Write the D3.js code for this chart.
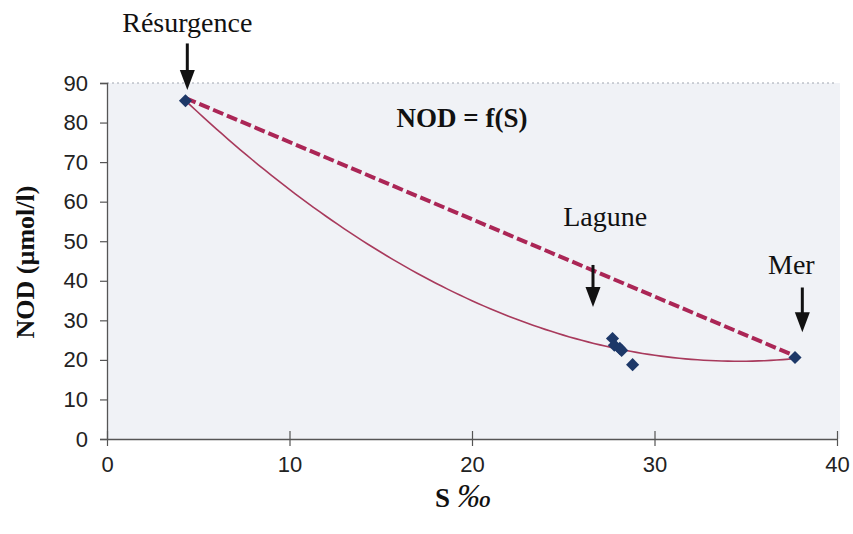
<!DOCTYPE html>
<html>
<head>
<meta charset="utf-8">
<script src="https://cdn.jsdelivr.net/npm/d3@7"></script>
<style>
  body { margin: 0; background: #fff; }
  svg { display: block; }
</style>
</head>
<body>
<svg id="chart" width="853" height="534"></svg>
<script>
// measured points, S (‰) vs NOD (µmol/l)
var salinity = [4.3, 27.7, 27.8, 28.1, 28.2, 28.8, 37.7];
var nod      = [85.5, 25.4, 23.7, 22.9, 22.4, 18.8, 20.6];

// dilution line between the two end-members
var mixS   = [4.3, 37.7];
var mixNod = [86.2, 21.0];

var xTicks = [0, 10, 20, 30, 40];
var yTicks = [0, 10, 20, 30, 40, 50, 60, 70, 80, 90];

// annotation arrows: x, top of shaft, tip, text position (data units)
var labels   = ["Résurgence", "Lagune", "Mer"];
var labelX   = [4.4, 27.3, 37.5];
var labelY   = [102.9, 53.8, 41.7];
var arrowX   = [4.4, 26.63, 38.1];
var arrowTop = [100.0, 44.0, 38.3];
var arrowTip = [88.2, 33.4, 27.0];

var svg = d3.select("#chart");
var x = d3.scaleLinear().domain([0, 40]).range([107, 837]);
var y = d3.scaleLinear().domain([0, 90]).range([439, 83]);

var serif = "'Liberation Serif', 'Times New Roman', serif";
var sans = "'Liberation Sans', Arial, sans-serif";

// plot background
svg.append("rect")
  .attr("x", x(0)).attr("y", y(90))
  .attr("width", x(40) - x(0) + 3).attr("height", y(0) - y(90))
  .attr("fill", "#f0f2f6");

// top border, dotted
svg.append("line")
  .attr("x1", x(0)).attr("x2", x(40))
  .attr("y1", y(90)).attr("y2", y(90))
  .attr("stroke", "#a0a6b0").attr("stroke-width", 1)
  .attr("stroke-dasharray", "2,3");

// axes
var xAxis = svg.append("g")
  .attr("transform", "translate(0," + y(0) + ")")
  .call(d3.axisBottom(x).tickValues(xTicks).tickSize(0).tickPadding(17));
xAxis.select(".domain").attr("stroke", "#555").attr("stroke-width", 1.3);
xAxis.selectAll(".tick line").remove();
xAxis.selectAll(".tick").append("line")
  .attr("y1", -8).attr("y2", 7).attr("stroke", "#555").attr("stroke-width", 1.2);
xAxis.selectAll("text").attr("font-family", sans).attr("font-size", 22).attr("fill", "#222");

var yAxis = svg.append("g")
  .attr("transform", "translate(" + x(0) + ",0)")
  .call(d3.axisLeft(y).tickValues(yTicks).tickSize(7).tickPadding(12));
yAxis.select(".domain").attr("stroke", "#555").attr("stroke-width", 1.3);
yAxis.selectAll(".tick line").attr("stroke", "#555").attr("stroke-width", 1.2);
yAxis.selectAll("text").attr("font-family", sans).attr("font-size", 22).attr("fill", "#222");

// quadratic least-squares trend from the points
function polyFit2(xs, ys) {
  var n = xs.length, s = [0, 0, 0, 0, 0], t = [0, 0, 0];
  for (var i = 0; i < n; i++) {
    var p = 1;
    for (var k = 0; k < 5; k++) { s[k] += p; if (k < 3) t[k] += p * ys[i]; p *= xs[i]; }
  }
  var M = [[s[0], s[1], s[2], t[0]], [s[1], s[2], s[3], t[1]], [s[2], s[3], s[4], t[2]]];
  for (var c = 0; c < 3; c++) {
    for (var r = c + 1; r < 3; r++) {
      var f = M[r][c] / M[c][c];
      for (var j = c; j < 4; j++) M[r][j] -= f * M[c][j];
    }
  }
  var b = [0, 0, 0];
  for (var r2 = 2; r2 >= 0; r2--) {
    var v = M[r2][3];
    for (var j2 = r2 + 1; j2 < 3; j2++) v -= M[r2][j2] * b[j2];
    b[r2] = v / M[r2][r2];
  }
  return b; // c0 + c1 s + c2 s^2
}
var coef = polyFit2(salinity, nod);
var sMin = d3.min(salinity), sMax = d3.max(salinity);
var curvePts = d3.range(0, 101).map(function (i) {
  var s = sMin + (sMax - sMin) * i / 100;
  return [s, coef[0] + coef[1] * s + coef[2] * s * s];
});
svg.append("path")
  .datum(curvePts)
  .attr("fill", "none")
  .attr("stroke", "#a83a5c")
  .attr("stroke-width", 1.6)
  .attr("d", d3.line().x(function (d) { return x(d[0]); }).y(function (d) { return y(d[1]); }));

// dashed mixing line
svg.append("path")
  .datum(d3.zip(mixS, mixNod))
  .attr("fill", "none")
  .attr("stroke", "#ab2656")
  .attr("stroke-width", 4)
  .attr("stroke-dasharray", "11,4")
  .attr("d", d3.line().x(function (d) { return x(d[0]); }).y(function (d) { return y(d[1]); }));

// diamonds
svg.selectAll(".pt")
  .data(d3.zip(salinity, nod))
  .enter().append("path")
  .attr("class", "pt")
  .attr("d", d3.symbol().type(d3.symbolDiamond2).size(110))
  .attr("transform", function (d) { return "translate(" + x(d[0]) + "," + y(d[1]) + ")"; })
  .attr("fill", "#1d3868");

// arrows + labels
labels.forEach(function (t, i) {
  var ax = x(arrowX[i]), y0 = y(arrowTop[i]), y1 = y(arrowTip[i]);
  svg.append("line")
    .attr("x1", ax).attr("x2", ax).attr("y1", y0).attr("y2", y1 - 15)
    .attr("stroke", "#111").attr("stroke-width", 3);
  svg.append("path")
    .attr("d", "M" + (ax - 7.5) + "," + (y1 - 20) + "L" + (ax + 7.5) + "," + (y1 - 20) + "L" + ax + "," + y1 + "Z")
    .attr("fill", "#111");
  svg.append("text")
    .attr("x", x(labelX[i])).attr("y", y(labelY[i]))
    .attr("text-anchor", "middle")
    .attr("font-family", serif).attr("font-size", 28).attr("fill", "#111")
    .text(t);
});

svg.append("text")
  .attr("x", x(19.45)).attr("y", y(78.9))
  .attr("text-anchor", "middle")
  .attr("font-family", serif).attr("font-size", 27).attr("font-weight", "bold").attr("fill", "#111")
  .text("NOD = f(S)");

// axis titles
svg.append("text")
  .attr("transform", "translate(34,262) rotate(-90)")
  .attr("text-anchor", "middle")
  .attr("font-family", serif).attr("font-size", 26).attr("font-weight", "bold").attr("fill", "#111")
  .text("NOD (µmol/l)");

var xt = svg.append("text")
  .attr("x", 463).attr("y", 507)
  .attr("text-anchor", "middle")
  .attr("font-family", serif).attr("font-size", 27).attr("fill", "#111");
xt.append("tspan").attr("font-weight", "bold").text("S ");
xt.append("tspan").attr("font-style", "italic").attr("font-size", 34).text("‰");
</script>
</body>
</html>
